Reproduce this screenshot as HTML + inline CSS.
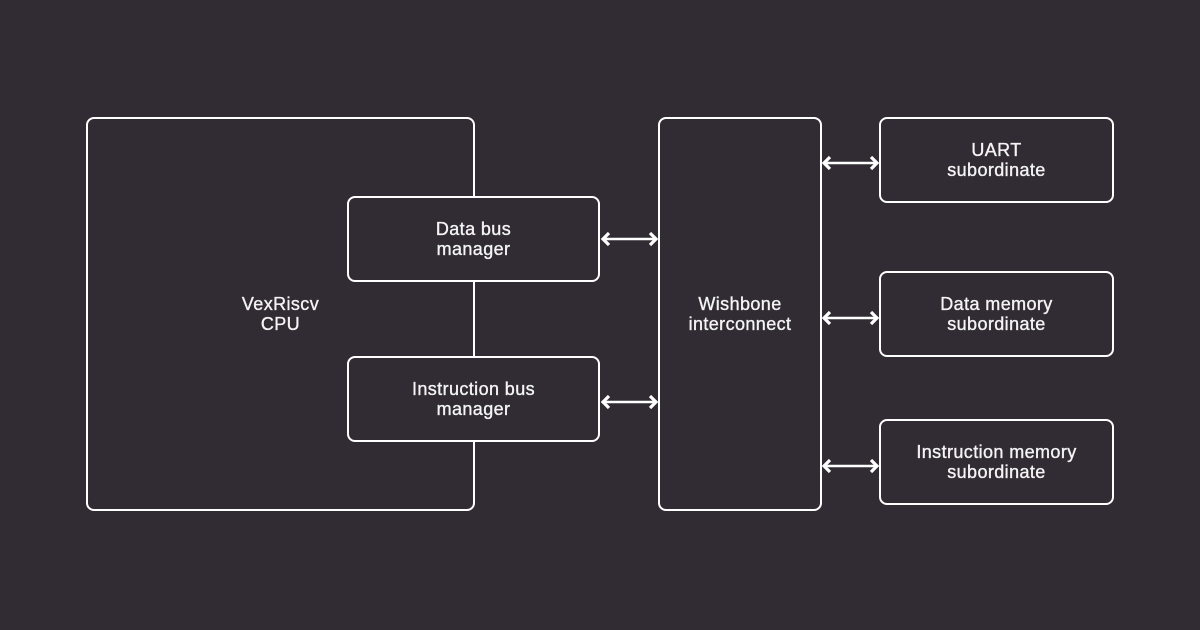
<!DOCTYPE html>
<html><head><style>
html,body{margin:0;padding:0;background:#312c34;}
body{width:1200px;height:630px;position:relative;overflow:hidden;font-family:"Liberation Sans",sans-serif;}
.b{position:absolute;box-sizing:border-box;border:2px solid #fff;border-radius:8px;background:#312c34;color:#f4f4f4;display:flex;align-items:center;justify-content:center;text-align:center;font-size:18px;line-height:20px;letter-spacing:0.4px;-webkit-text-stroke:0.35px #f4f4f4;}
svg{position:absolute;left:0;top:0;}
</style></head><body>
<div class="b" style="left:86px;top:117px;width:389px;height:394px;">VexRiscv<br>CPU</div>
<div class="b" style="left:347px;top:196px;width:253px;height:86px;">Data bus<br>manager</div>
<div class="b" style="left:347px;top:356px;width:253px;height:86px;">Instruction bus<br>manager</div>
<div class="b" style="left:658px;top:117px;width:164px;height:394px;">Wishbone<br>interconnect</div>
<div class="b" style="left:879px;top:117px;width:235px;height:86px;">UART<br>subordinate</div>
<div class="b" style="left:879px;top:271px;width:235px;height:86px;">Data memory<br>subordinate</div>
<div class="b" style="left:879px;top:419px;width:235px;height:86px;">Instruction memory<br>subordinate</div>
<svg width="1200" height="630" fill="none" stroke="#fff" stroke-width="2.5">
<g><line x1="604" y1="239" x2="655" y2="239"/><polyline stroke-width="3.2" points="609,233 603,239 609,245"/><polyline stroke-width="3.2" points="650,233 656,239 650,245"/></g>
<g transform="translate(0,163)"><line x1="604" y1="239" x2="655" y2="239"/><polyline stroke-width="3.2" points="609,233 603,239 609,245"/><polyline stroke-width="3.2" points="650,233 656,239 650,245"/></g>
<g transform="translate(221,-76)"><line x1="604" y1="239" x2="655" y2="239"/><polyline stroke-width="3.2" points="609,233 603,239 609,245"/><polyline stroke-width="3.2" points="650,233 656,239 650,245"/></g>
<g transform="translate(221,79)"><line x1="604" y1="239" x2="655" y2="239"/><polyline stroke-width="3.2" points="609,233 603,239 609,245"/><polyline stroke-width="3.2" points="650,233 656,239 650,245"/></g>
<g transform="translate(221,227)"><line x1="604" y1="239" x2="655" y2="239"/><polyline stroke-width="3.2" points="609,233 603,239 609,245"/><polyline stroke-width="3.2" points="650,233 656,239 650,245"/></g>
</svg>
</body></html>
